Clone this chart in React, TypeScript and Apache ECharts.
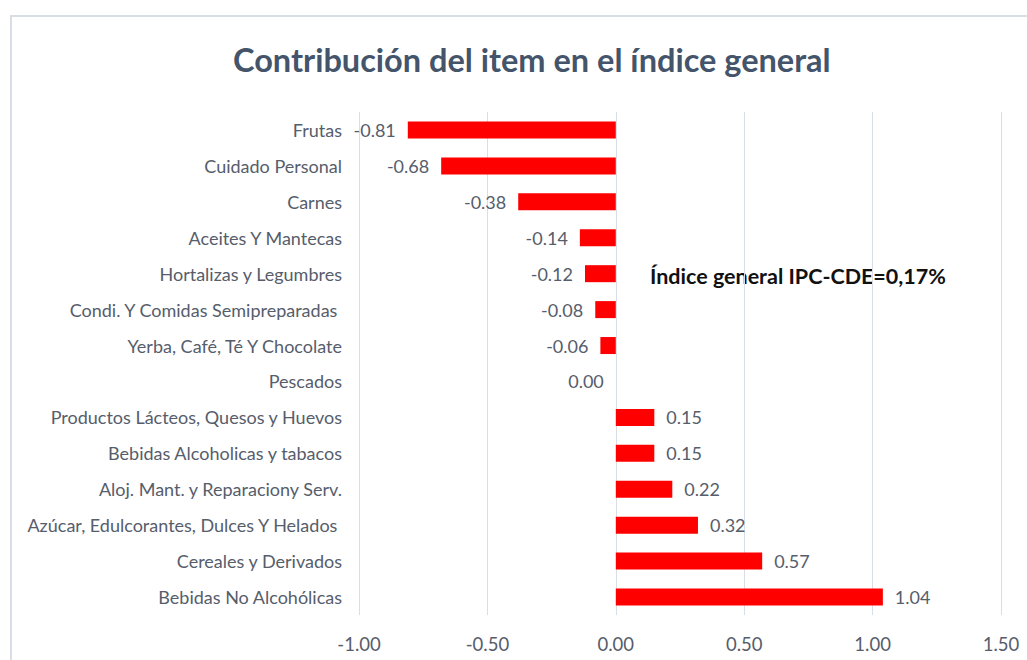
import React, { useEffect, useRef } from "react";
import * as echarts from "echarts";

const categories = [
  "Frutas",
  "Cuidado Personal",
  "Carnes",
  "Aceites Y Mantecas",
  "Hortalizas y Legumbres",
  "Condi. Y Comidas Semipreparadas ",
  "Yerba, Café, Té Y Chocolate",
  "Pescados",
  "Productos Lácteos, Quesos y Huevos",
  "Bebidas Alcoholicas y tabacos",
  "Aloj. Mant. y Reparaciony Serv.",
  "Azúcar, Edulcorantes, Dulces Y Helados ",
  "Cereales y Derivados",
  "Bebidas No Alcohólicas",
];
const values = [-0.81, -0.68, -0.38, -0.14, -0.12, -0.08, -0.06, 0.0, 0.15, 0.15, 0.22, 0.32, 0.57, 1.04];
const titleText = "Contribución del item en el índice general";
const noteText = "Índice general IPC-CDE=0,17%";

const FONT = "Lato";
const TXT = "#565d6b";

export default function App() {
  const ref = useRef<HTMLDivElement>(null);
  useEffect(() => {
    const chart = echarts.init(ref.current!, null, { renderer: "svg" });
    chart.setOption({
      animation: false,
      backgroundColor: "#ffffff",
      title: {
        text: titleText,
        left: 228,
        top: 38,
        textStyle: { fontFamily: FONT, fontWeight: "bold", fontSize: 32.5, color: "#44546a" },
      },
      graphic: [
        {
          type: "rect",
          shape: { x: 11, y: 16, width: 1040, height: 700 },
          style: { fill: "none", stroke: "#d9dee6", lineWidth: 2 },
          silent: true,
        },
        {
          type: "text",
          left: 650,
          top: 265,
          style: { text: noteText, fontFamily: FONT, fontWeight: "bold", fontSize: 21.5, fill: "#111111" },
        },
      ],
      grid: { left: 359, right: 26, top: 112, bottom: 45, containLabel: false },
      xAxis: {
        type: "value",
        min: -1,
        max: 1.5,
        interval: 0.5,
        axisLine: { show: false },
        axisTick: { show: false },
        splitLine: { show: true, lineStyle: { color: "#d9dee6", width: 1 } },
        axisLabel: {
          formatter: (v: number) => v.toFixed(2),
          fontFamily: FONT,
          fontSize: 18.5,
          color: TXT,
          margin: 19,
        },
      },
      yAxis: {
        type: "category",
        data: categories,
        inverse: true,
        axisLine: { show: false, onZero: false },
        axisTick: { show: false },
        splitLine: { show: false },
        axisLabel: { fontFamily: FONT, fontSize: 18, color: TXT, margin: 17 },
      },
      series: [
        {
          type: "bar",
          data: values.map((v) => ({
            value: v,
            label: { position: v <= 0 ? "left" : "right" },
          })),
          barWidth: 17,
          itemStyle: { color: "#ff0000" },
          label: {
            show: true,
            formatter: (p: any) => Number(p.value).toFixed(2),
            fontFamily: FONT,
            fontSize: 18,
            color: TXT,
            distance: 12,
          },
        },
      ],
    });
    return () => chart.dispose();
  }, []);
  return (
    <div
      ref={ref}
      style={{ position: "fixed", left: 0, top: 0, width: 1027, height: 660 }}
    />
  );
}
